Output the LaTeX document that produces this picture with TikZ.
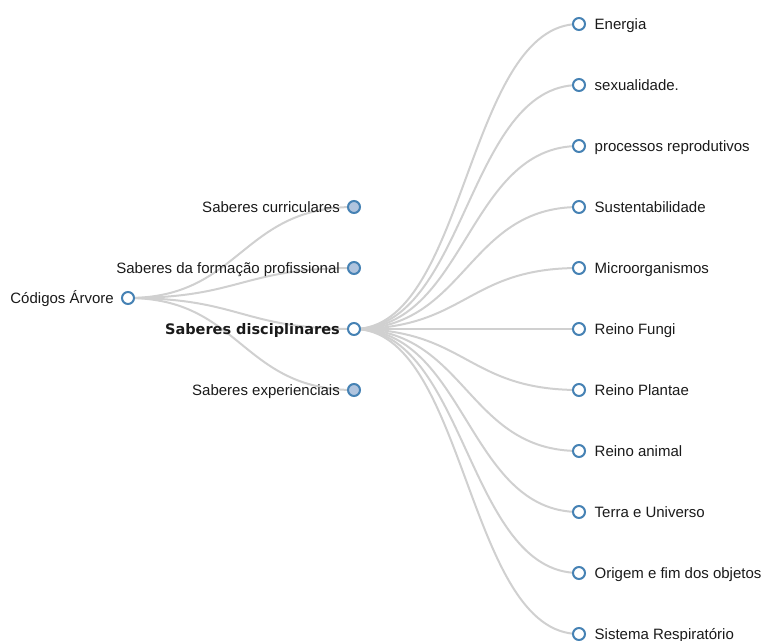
\documentclass[tikz,border=0pt]{standalone}
\usepackage{fontspec}
\setmainfont{Liberation Sans}
\newfontfamily\heavyface{DejaVu Sans}
\usetikzlibrary{positioning, backgrounds, calc}
\definecolor{steel}{HTML}{4682B4}
\definecolor{steellight}{HTML}{B0C4DE}
\definecolor{linkgrey}{HTML}{D0D0D0}
\definecolor{txtgrey}{HTML}{1A1A1A}

% curved d3-like link between two named nodes
\newcommand{\branch}[2]{%
  \draw[kedge] let \p1=(#1.center), \p2=(#2.center) in
    (\p1) .. controls ({(\x1+\x2)/2},\y1) and ({(\x1+\x2)/2},\y2) .. (\p2);}

\begin{document}
\begin{tikzpicture}[x=1pt, y=-1pt, node distance=61pt, on grid,
  knode/.style={circle, draw=steel, line width=2pt, fill=white,
                minimum size=12pt, inner sep=0pt},
  kfold/.style={knode, fill=steellight},
  ktxt/.style={font=\fontsize{15}{17}\selectfont, text=txtgrey, inner sep=0pt,
               text height=10.5pt, text depth=0pt},
  kleft/.style={label={[ktxt, label distance=7pt]left:#1}},
  kright/.style={label={[ktxt, label distance=8.5pt]right:#1}},
  kedge/.style={draw=linkgrey, line width=2pt}
]
\useasboundingbox (0,0) rectangle (763,640);

% root
\node[knode, kleft={Códigos Árvore}] (root) at (128,298) {};

% first level
\node[kfold, kleft={Saberes curriculares}] (curr) at (354,207) {};
\node[kfold, kleft={Saberes da formação profissional}, below=of curr] (form) {};
\node[knode, label={[ktxt, font=\heavyface\bfseries\fontsize{14.5}{17}\selectfont,
      label distance=7pt]left:Saberes disciplinares}, below=of form] (disc) {};
\node[kfold, kleft={Saberes experienciais}, below=of disc] (expe) {};

% second level
\node[knode, kright={Energia}] (ener) at (579,24) {};
\node[knode, kright={sexualidade.}, below=of ener] (sexu) {};
\node[knode, kright={processos reprodutivos}, below=of sexu] (proc) {};
\node[knode, kright={Sustentabilidade}, below=of proc] (sust) {};
\node[knode, kright={Microorganismos}, below=of sust] (micr) {};
\node[knode, kright={Reino Fungi}, below=of micr] (fung) {};
\node[knode, kright={Reino Plantae}, below=of fung] (plan) {};
\node[knode, kright={Reino animal}, below=of plan] (anim) {};
\node[knode, kright={Terra e Universo}, below=of anim] (terr) {};
\node[knode, kright={Origem e fim dos objetos}, below=of terr] (orig) {};
\node[knode, kright={Sistema Respiratório}, below=of orig] (resp) {};

\begin{scope}[on background layer]
\foreach \k in {curr, form, disc, expe} {\branch{root}{\k}}
\foreach \k in {ener, sexu, proc, sust, micr, fung, plan, anim, terr, orig, resp}
  {\branch{disc}{\k}}
\end{scope}
\end{tikzpicture}
\end{document}
